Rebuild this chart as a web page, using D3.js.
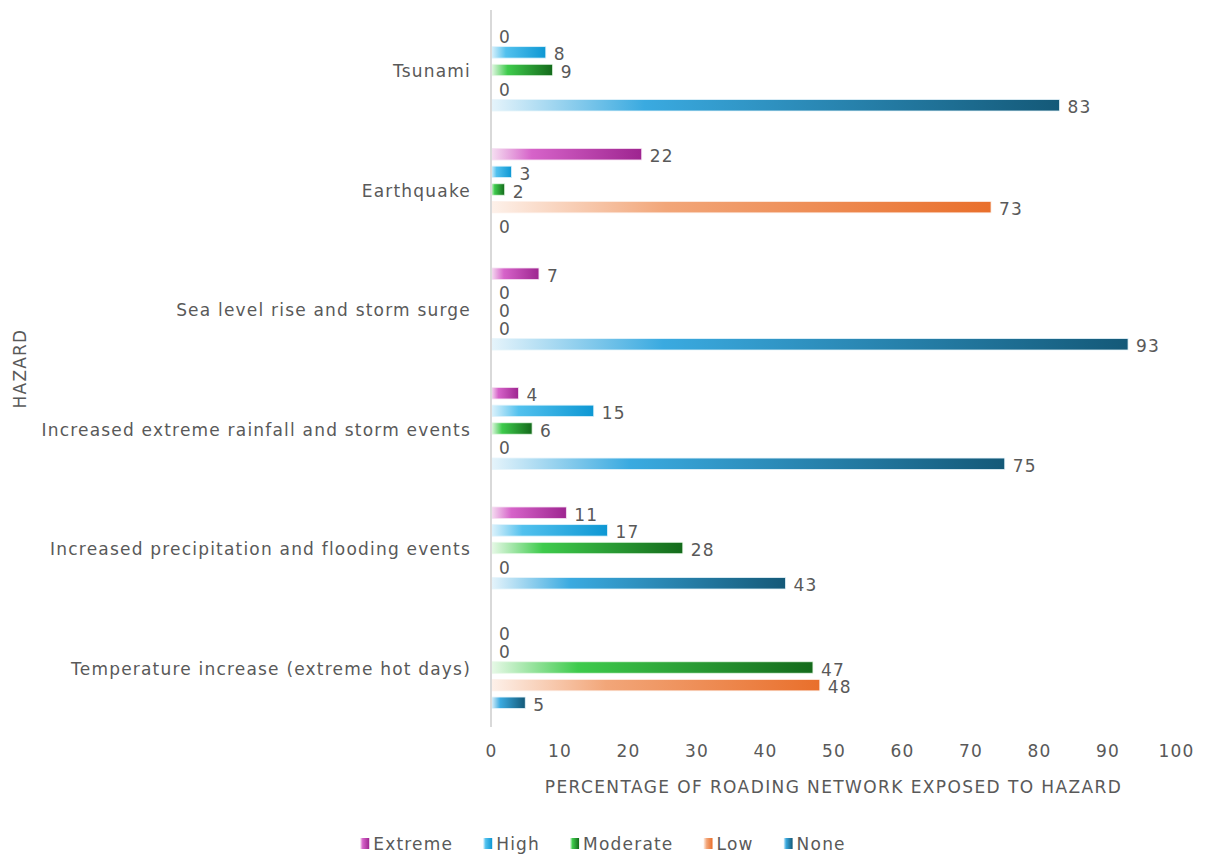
<!DOCTYPE html>
<html>
<head>
<meta charset="utf-8">
<script src="https://cdn.jsdelivr.net/npm/d3@7"></script>
<style>
  html, body { margin: 0; padding: 0; background: #ffffff; }
  svg { display: block; }
  text { font-family: "DejaVu Sans", sans-serif; fill: #595959; letter-spacing: 1.2px; }
</style>
</head>
<body>
<svg id="chart" width="1206" height="854"></svg>
<script>
// ---- Data ----
const categories = [
  "Tsunami",
  "Earthquake",
  "Sea level rise and storm surge",
  "Increased extreme rainfall and storm events",
  "Increased precipitation and flooding events",
  "Temperature increase (extreme hot days)"
];
const series = ["Extreme", "High", "Moderate", "Low", "None"];
const extremeValues  = [0, 22, 7, 4, 11, 0];
const highValues     = [8, 3, 0, 15, 17, 0];
const moderateValues = [9, 2, 0, 6, 28, 47];
const lowValues      = [0, 73, 0, 0, 0, 48];
const noneValues     = [83, 0, 93, 75, 43, 5];
const xTicks = [0, 10, 20, 30, 40, 50, 60, 70, 80, 90, 100];
const xTitle = "PERCENTAGE OF ROADING NETWORK EXPOSED TO HAZARD";
const yTitle = "HAZARD";

const seriesValues = {
  Extreme: extremeValues, High: highValues, Moderate: moderateValues, Low: lowValues, None: noneValues
};
// gradient stops: [light start, mid, dark end]
const seriesColors = {
  Extreme:  ["#f6e0f2", "#d663c9", "#9e2590"],
  High:     ["#dff3fc", "#52c1ee", "#0d97d3"],
  Moderate: ["#e8f9e8", "#3ecb4c", "#146a1b"],
  Low:      ["#fdf1ea", "#f2a679", "#e96f2b"],
  None:     ["#e6f4fb", "#3aaae0", "#145978"]
};

const rows = [];
categories.forEach((c, i) => {
  series.forEach(s => rows.push({ cat: c, ser: s, val: seriesValues[s][i] }));
});

// ---- Layout ----
const svg = d3.select("#chart");
const plotLeft = 491, plotRight = 1176, plotTop = 10, plotBottom = 727;
const fs = 17;

const x = d3.scaleLinear().domain([0, 100]).range([plotLeft, plotRight]);
const y0 = d3.scaleBand().domain(categories).range([plotTop, plotBottom]).padding(0);
const y1 = d3.scaleBand().domain(series).range([19, 101]).paddingInner(0.35).paddingOuter(0);

// gradients
const defs = svg.append("defs");
series.forEach(s => {
  const g = defs.append("linearGradient").attr("id", "grad-" + s)
    .attr("x1", "0%").attr("x2", "100%").attr("y1", "0%").attr("y2", "0%");
  const c = seriesColors[s];
  g.append("stop").attr("offset", "0%").attr("stop-color", c[0]);
  g.append("stop").attr("offset", s === "Low" ? "35%" : "27%").attr("stop-color", c[1]);
  g.append("stop").attr("offset", "100%").attr("stop-color", c[2]);
});

// bars
svg.append("g").selectAll("rect").data(rows.filter(d => d.val > 0)).join("rect")
  .attr("x", x(0))
  .attr("y", d => y0(d.cat) + y1(d.ser))
  .attr("width", d => x(d.val) - x(0))
  .attr("height", y1.bandwidth())
  .attr("fill", d => "url(#grad-" + d.ser + ")")
  .attr("stroke", d => seriesColors[d.ser][0])
  .attr("stroke-width", 0.8);

// value labels
svg.append("g").selectAll("text").data(rows).join("text")
  .attr("x", d => x(d.val) + 8)
  .attr("y", d => y0(d.cat) + y1(d.ser) + y1.bandwidth() / 2 + 2)
  .attr("dominant-baseline", "central")
  .attr("font-size", fs)
  .text(d => d.val);

// vertical axis line
svg.append("line")
  .attr("x1", x(0)).attr("x2", x(0))
  .attr("y1", plotTop).attr("y2", plotBottom)
  .attr("stroke", "#d9d9d9").attr("stroke-width", 2);

// category labels (y axis)
const yAxis = d3.axisLeft(y0).tickSize(0).tickPadding(20);
const yg = svg.append("g").attr("transform", `translate(${x(0)},0)`).call(yAxis);
yg.select(".domain").remove();
yg.selectAll("text").attr("font-size", fs).attr("fill", "#595959")
  .style("font-family", '"DejaVu Sans", sans-serif')
  .attr("dy", "0.45em");

// x axis tick labels
const xAxis = d3.axisBottom(x).tickValues(xTicks).tickSize(0).tickPadding(18);
const xg = svg.append("g").attr("transform", `translate(0,${plotBottom})`).call(xAxis);
xg.select(".domain").remove();
xg.selectAll("text").attr("font-size", fs).attr("fill", "#595959")
  .style("font-family", '"DejaVu Sans", sans-serif');

// axis titles
svg.append("text")
  .attr("x", (plotLeft + plotRight) / 2).attr("y", 787)
  .attr("text-anchor", "middle").attr("dominant-baseline", "central")
  .attr("font-size", fs)
  .style("letter-spacing", "1.4px")
  .text(xTitle);

svg.append("text")
  .attr("transform", `translate(20,${(plotTop + plotBottom) / 2}) rotate(-90)`)
  .attr("text-anchor", "middle").attr("dominant-baseline", "central")
  .attr("font-size", fs)
  .text(yTitle);

// legend
const legendItems = series.map(s => ({ s }));
const lg = svg.append("g");
let lx = 0;
const itemGroups = lg.selectAll("g").data(legendItems).join("g");
itemGroups.append("rect").attr("x", 0).attr("y", -5).attr("width", 9).attr("height", 11)
  .attr("fill", d => "url(#grad-" + d.s + ")");
itemGroups.append("text").attr("x", 13).attr("y", 1).attr("dominant-baseline", "central")
  .attr("font-size", fs).text(d => d.s);
itemGroups.each(function() {
  const w = this.getBBox().width;
  d3.select(this).attr("transform", `translate(${lx},843)`);
  lx += w + 30;
});
const totalW = lx - 30;
lg.attr("transform", `translate(${603 - totalW / 2},0)`);
</script>
</body>
</html>
